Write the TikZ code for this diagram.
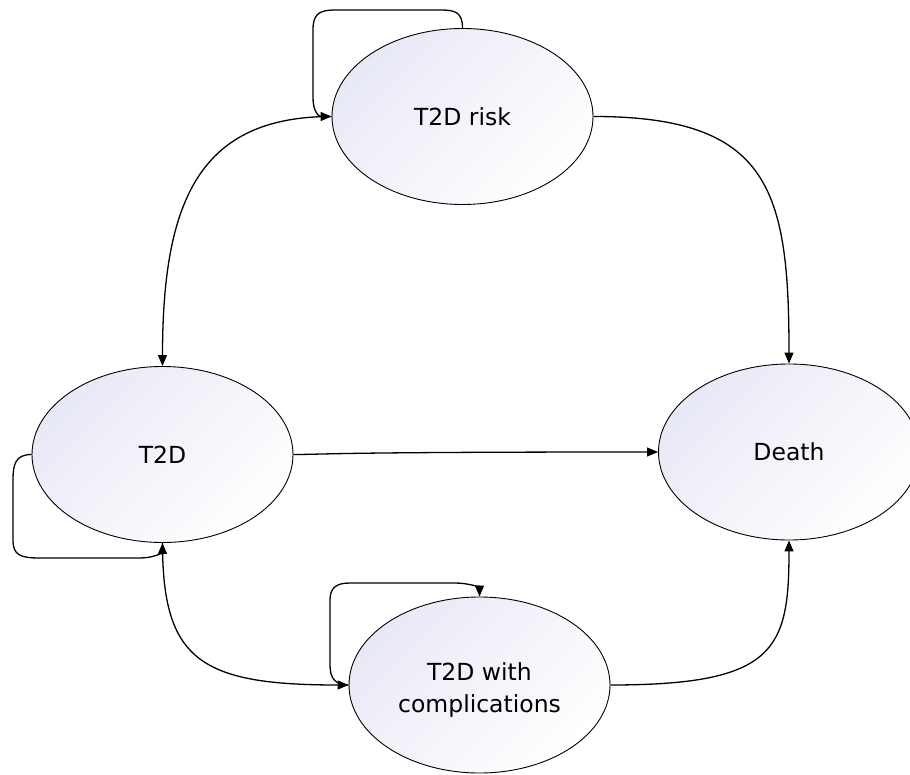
\documentclass[tikz,border=0pt]{standalone}
\usepackage{fontspec}
\setmainfont{DejaVu Sans}
\usetikzlibrary{shapes.geometric,arrows.meta}
\definecolor{lav}{RGB}{232,233,246}
\begin{document}
\begin{tikzpicture}[x=1pt,y=-1pt,
  state/.style={ellipse,draw=black,line width=0.9pt,minimum width=261pt,minimum height=176pt,
    inner sep=0pt,top color=lav,bottom color=white,shading angle=45,align=center,
    font=\fontsize{23.5}{32}\selectfont},
  conn/.style={draw=black,line width=1.3pt,-{Triangle[length=11pt,width=9pt]}}]
\clip (0,0) rectangle (910,775);
\node[state] (risk) at (462.5,116.5) {T2D risk};
\node[state] (t2d) at (162.5,454.5) {T2D};
\node[state,label={[align=center,yshift=-5pt,font=\fontsize{23.5}{32}\selectfont]center:T2D with\\complications}] (comp) at (479.5,685) {};
\node[state] (death) at (789,452) {Death};
% transitions
\draw[conn] (risk.west) .. controls (200,116.5) and (162.5,200) .. (t2d.north);
\draw[conn] (risk.east) .. controls (770,116.5) and (789,190) .. (death.north);
\draw[conn] (t2d.east) .. controls (325,454.5) and (330,452) .. (death.west);
\draw[conn] (t2d.south) .. controls (162.5,660) and (200,685) .. (comp.west);
\draw[conn] (comp.east) .. controls (775,685) and (789,650) .. (death.south);
% self loops
\draw[conn] (risk.north) .. controls (462.5,12) and (455,10) .. (440,10) -- (335,10)
  .. controls (318,10) and (313,15) .. (313,30) -- (313,98)
  .. controls (313,110) and (318,116.5) .. (risk.west);
\draw[conn] (t2d.west) .. controls (15,454.5) and (13,465) .. (13,480) -- (13,540)
  .. controls (13,555) and (20,558) .. (40,558) -- (140,558)
  .. controls (155,558) and (162.5,552) .. (t2d.south);
\draw[conn] (comp.west) .. controls (335,685) and (330,678) .. (330,665) -- (330,600)
  .. controls (330,588) and (336,583) .. (350,583) -- (455,583)
  .. controls (470,583) and (479.5,588) .. (comp.north);
\end{tikzpicture}
\end{document}
